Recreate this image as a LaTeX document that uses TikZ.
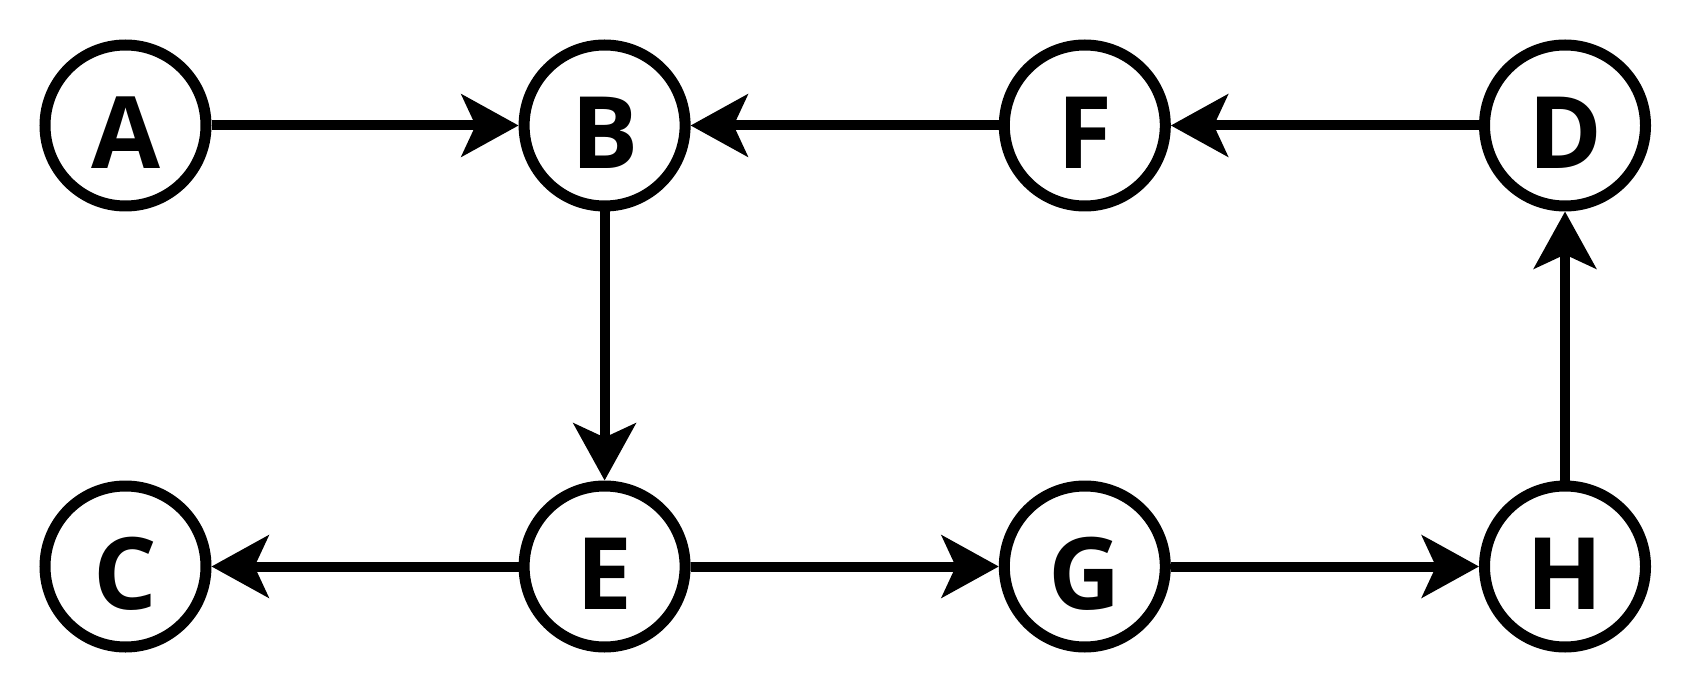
\documentclass[tikz,border=0pt]{standalone}
\usepackage{fontspec}
\setmainfont{Open Sans}
\usetikzlibrary{arrows.meta}
\begin{document}
\begin{tikzpicture}[x=1pt,y=-1pt,
  vnode/.style={circle,draw=black,line width=11pt,minimum size=161pt,inner sep=0pt,fill=white},
  lbl/.style={font=\fontsize{100}{100}\selectfont\bfseries},
  edge/.style={line width=10pt,-{Stealth[length=57pt,width=62pt,inset=14pt]}}]
\useasboundingbox (0,0) rectangle (1696,692);
\node[vnode] (A) at (125.5,125.5) {};
\node[vnode] (B) at (604.6,125.5) {};
\node[vnode] (F) at (1084.8,125.5) {};
\node[vnode] (D) at (1565,125.5) {};
\node[vnode] (C) at (125.5,566.5) {};
\node[vnode] (E) at (604.6,566.5) {};
\node[vnode] (G) at (1084.8,566.5) {};
\node[vnode] (H) at (1565,566.5) {};
\foreach \n in {A,B,F,D,C,E,G,H}
  \node[lbl,anchor=center] (l\n) at ([yshift=-7pt]\n.center) {\n};
\draw[edge] (A) -- (B);
\draw[edge] (F) -- (B);
\draw[edge] (D) -- (F);
\draw[edge] (B) -- (E);
\draw[edge] (E) -- (C);
\draw[edge] (E) -- (G);
\draw[edge] (G) -- (H);
\draw[edge] (H) -- (D);
\end{tikzpicture}
\end{document}
